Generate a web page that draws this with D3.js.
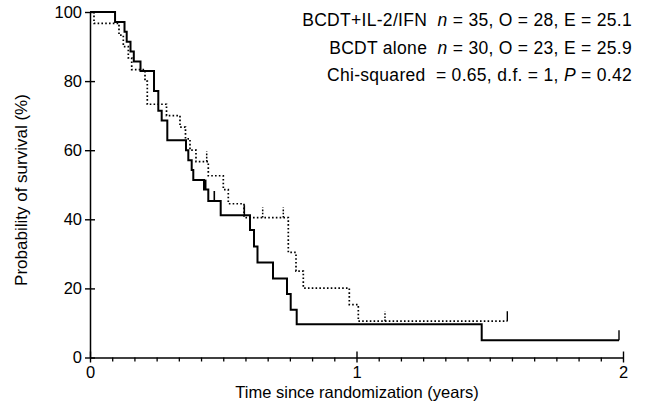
<!DOCTYPE html>
<html><head><meta charset="utf-8">
<script src="https://cdn.jsdelivr.net/npm/d3@7"></script>
<style>body{margin:0;background:#fff}svg{display:block}text{font-family:"Liberation Sans",Arial,sans-serif;fill:#000;white-space:pre}</style>
</head><body>
<svg id="chart" width="647" height="407"></svg>
<script>
// Data (time in years, survival in %)
const solidTimes = [0.094,0.1295,0.1377,0.152,0.1644,0.1895,0.2402,0.2563,0.269,0.2901,0.3602,0.3689,0.3816,0.3876,0.4278,0.4439,0.4904,0.6004,0.6154,0.6285,0.6867,0.7392,0.7531,0.7756,1.4698];
const solidSurv  = [97.1,94.3,91.4,88.6,85.7,82.9,77.1,71.4,68.6,62.9,60.0,57.1,54.3,51.4,48.6,45.3,41.2,36.9,32.1,27.5,22.9,18.4,13.8,9.6,5.0];
const solidCensor = [0.4341,0.4664,0.579];
const solidEnd = 1.985;

const dottedTimes = [0.015,0.1088,0.125,0.1437,0.1565,0.2064,0.215,0.2871,0.3377,0.3583,0.3752,0.3977,0.4439,0.5002,0.5189,0.5779,0.7441,0.773,0.8004,0.973,1.0068];
const dottedSurv  = [96.7,93.3,90.0,86.7,83.3,80.0,73.3,70.0,66.7,63.3,60.0,56.7,52.6,48.6,44.5,40.5,30.4,25.0,20.1,15.3,10.5];
const dottedCensor = [0.4379,0.648,0.7253,1.1069];
const dottedEnd = 1.5659;

const xTicks = [0,1,2];
const yTicks = [0,20,40,60,80,100];
const legendLines = [
  [["BCDT+IL-2/IFN  ",""],["n","i"],[" = 35, O = 28, E = 25.1",""]],
  [["BCDT alone  ",""],["n","i"],[" = 30, O = 23, E = 25.9",""]],
  [["Chi-squared  = 0.65, d.f. = 1, ",""],["P","i"],[" = 0.42",""]]
];

const svg = d3.select("#chart");
const x = d3.scaleLinear().domain([0,2]).range([90,623]);
const y = d3.scaleLinear().domain([0,100]).range([357.5,12]);

function stepData(times, surv, end){
  const pts=[[0,100]];
  times.forEach((t,i)=>pts.push([t,surv[i]]));
  pts.push([end, surv[surv.length-1]]);
  return pts;
}
function levelAt(times,surv,t){
  let s=100; times.forEach((tt,i)=>{ if(tt<=t) s=surv[i]; }); return s;
}
const line = d3.line().x(d=>x(d[0])).y(d=>y(d[1])).curve(d3.curveStepAfter);

// dotted curve
svg.append("path").datum(stepData(dottedTimes,dottedSurv,dottedEnd))
  .attr("d",line).attr("fill","none").attr("stroke","#000")
  .attr("stroke-width",1.7).attr("stroke-dasharray","1.6,2.2");
dottedCensor.forEach(t=>{
  const s=levelAt(dottedTimes,dottedSurv,t);
  svg.append("line").attr("x1",x(t)).attr("x2",x(t)).attr("y1",y(s)).attr("y2",y(s)-10)
    .attr("stroke","#000").attr("stroke-width",1.5).attr("stroke-dasharray","1.6,1.6");
});
{ const s=dottedSurv[dottedSurv.length-1];
  svg.append("line").attr("x1",x(dottedEnd)).attr("x2",x(dottedEnd)).attr("y1",y(s)).attr("y2",y(s)-10)
    .attr("stroke","#000").attr("stroke-width",1.4); }

// solid curve
svg.append("path").datum(stepData(solidTimes,solidSurv,solidEnd))
  .attr("d",line).attr("fill","none").attr("stroke","#000").attr("stroke-width",2);
solidCensor.forEach(t=>{
  const s=levelAt(solidTimes,solidSurv,t);
  svg.append("line").attr("x1",x(t)).attr("x2",x(t)).attr("y1",y(s)).attr("y2",y(s)-10)
    .attr("stroke","#000").attr("stroke-width",1.6);
});
{ const s=solidSurv[solidSurv.length-1];
  svg.append("line").attr("x1",x(solidEnd)).attr("x2",x(solidEnd)).attr("y1",y(s)).attr("y2",y(s)-10)
    .attr("stroke","#000").attr("stroke-width",1.4); }

// axes
const yAxis = svg.append("g").attr("transform",`translate(${x(0)},0)`)
  .call(d3.axisLeft(y).tickValues(yTicks).tickSize(5).tickSizeOuter(0).tickPadding(3));
yAxis.select(".domain").attr("stroke-width",1.5);
yAxis.selectAll(".tick line").attr("x2",5).attr("x1",-5).attr("stroke-width",1.4);
yAxis.selectAll(".tick text").attr("font-size",16.5).attr("font-family","Liberation Sans, Arial, sans-serif");

const minor = d3.range(0,25).map(i=>i/12).filter(v=>!xTicks.some(t=>Math.abs(t-v)<1e-6));
const xMinor = svg.append("g").attr("transform",`translate(0,${y(0)})`)
  .call(d3.axisBottom(x).tickValues(minor).tickSize(4).tickFormat(""));
xMinor.select(".domain").remove();
xMinor.selectAll(".tick line").attr("stroke-width",1.3);
const xAxis = svg.append("g").attr("transform",`translate(0,${y(0)})`)
  .call(d3.axisBottom(x).tickValues(xTicks).tickSize(5).tickSizeOuter(0).tickPadding(4).tickFormat(d3.format("d")));
xAxis.select(".domain").attr("stroke-width",1.5);
xAxis.selectAll(".tick line").attr("y1",-6).attr("stroke-width",1.4);
xAxis.selectAll(".tick text").attr("font-size",16.5).attr("font-family","Liberation Sans, Arial, sans-serif");

// axis titles
svg.append("text").attr("x",357).attr("y",398).attr("text-anchor","middle")
  .attr("font-size",16.5).text("Time since randomization (years)");
svg.append("text").attr("transform","translate(27,190) rotate(-90)").attr("text-anchor","middle")
  .attr("font-size",17).text("Probability of survival (%)");

// legend text
legendLines.forEach((parts,i)=>{
  const t = svg.append("text").attr("x",632).attr("y",26+i*27.5).attr("text-anchor","end")
    .attr("font-size",17.5).attr("letter-spacing",0.3);
  parts.forEach(p=>{
    const ts=t.append("tspan").text(p[0]);
    if(p[1]==="i") ts.attr("font-style","italic");
  });
});
</script>
</body></html>
